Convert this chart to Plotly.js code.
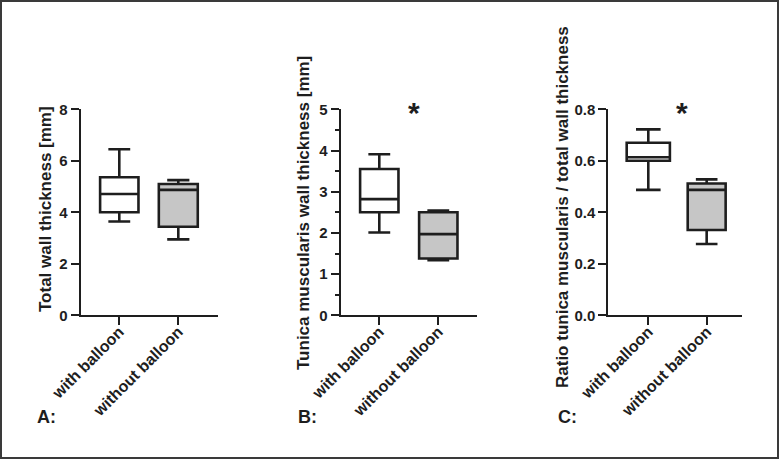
<!DOCTYPE html>
<html>
<head>
<meta charset="utf-8">
<script src="https://cdn.plot.ly/plotly-3.0.1.min.js"></script>
<style>
  html, body { margin: 0; padding: 0; background: #fff; }
  #wrap { position: relative; width: 779px; height: 459px; }
  #chart { position: absolute; left: 0; top: 0; width: 779px; height: 459px; }
  #frame { position: absolute; left: 0; top: 0; width: 779px; height: 459px; box-sizing: border-box; border: 2px solid #3a3a3a; pointer-events: none; }
</style>
</head>
<body>
<div id="wrap"><div id="chart"></div><div id="frame"></div></div>
<script>
// ---- data ----
const categories = ['with balloon', 'without balloon'];

// Panel A: total wall thickness [mm]
const totalLower  = [3.64, 2.95];
const totalQ1     = [4.00, 3.44];
const totalMedian = [4.71, 4.87];
const totalQ3     = [5.36, 5.10];
const totalUpper  = [6.45, 5.25];

// Panel B: tunica muscularis wall thickness [mm]
const tunicaLower  = [2.01, 1.34];
const tunicaQ1     = [2.50, 1.38];
const tunicaMedian = [2.82, 1.97];
const tunicaQ3     = [3.55, 2.50];
const tunicaUpper  = [3.91, 2.54];

// Panel C: ratio tunica muscularis / total wall thickness
const ratioLower  = [0.487, 0.277];
const ratioQ1     = [0.600, 0.331];
const ratioMedian = [0.614, 0.487];
const ratioQ3     = [0.670, 0.512];
const ratioUpper  = [0.722, 0.528];

const yTitles = ['Total wall thickness [mm]', 'Tunica muscularis wall thickness [mm]', 'Ratio tunica muscularis / total wall thickness'];
const panelLabels = ['A:', 'B:', 'C:'];

// ---- styling ----
const W = 779, H = 459;
const FONT = 'Liberation Sans, Arial, Helvetica, sans-serif';
const INK = '#1e1e1e';
const fills = ['#ffffff', '#c6c6c6'];
const px = v => v / W;
const py = v => (H - v) / H;

const yDomain = [py(315.3), py(109.3)];

function boxes(lower, q1, med, q3, upper, xa, ya, widths) {
  return categories.map((c, i) => ({
    type: 'box',
    x: [c],
    lowerfence: [lower[i]], q1: [q1[i]], median: [med[i]], q3: [q3[i]], upperfence: [upper[i]],
    xaxis: xa, yaxis: ya,
    fillcolor: fills[i],
    line: { color: INK, width: 2.6 },
    width: widths[i],
    whiskerwidth: 0.57,
    boxpoints: false,
    hoverinfo: 'skip',
    showlegend: false
  }));
}

const data = [
  ...boxes(totalLower, totalQ1, totalMedian, totalQ3, totalUpper, 'x', 'y', [0.65, 0.66]),
  ...boxes(tunicaLower, tunicaQ1, tunicaMedian, tunicaQ3, tunicaUpper, 'x2', 'y2', [0.65, 0.65]),
  ...boxes(ratioLower, ratioQ1, ratioMedian, ratioQ3, ratioUpper, 'x3', 'y3', [0.74, 0.65])
];

function xaxis(l, r, range, anchor) {
  return {
    domain: [px(l), px(r)], anchor: anchor, type: 'category',
    categoryorder: 'array', categoryarray: categories,
    range: range, showline: true, linewidth: 2, linecolor: INK,
    ticks: 'outside', ticklen: 8, tickwidth: 2, tickcolor: INK,
    ticklabelstandoff: -9,
    tickangle: -45, tickfont: { family: FONT, size: 16, color: INK, weight: 'bold' },
    showgrid: false, zeroline: false, fixedrange: true
  };
}
function yaxis(range, dtick, anchor, minor, fmt) {
  const a = {
    domain: yDomain, anchor: anchor, range: range,
    tickmode: 'linear', tick0: 0, dtick: dtick,
    showline: true, linewidth: 2, linecolor: INK,
    ticks: 'outside', ticklen: 8, tickwidth: 2, tickcolor: INK,
    tickfont: { family: FONT, size: 15, color: INK, weight: 'bold' },
    showgrid: false, zeroline: false, fixedrange: true
  };
  if (fmt) a.tickformat = fmt;
  if (minor) a.minor = { dtick: minor, ticks: 'outside', ticklen: 4, tickwidth: 2, tickcolor: INK, showgrid: false };
  return a;
}

const titleX = [45, 303, 563];
const titleY = [209, 213, 207];
const labelX = [46, 307, 567];
const starX = [414, 682];
const annotations = [];
yTitles.forEach((t, i) => annotations.push({
  text: t, xref: 'paper', yref: 'paper', x: px(titleX[i]), y: py(titleY[i]),
  xanchor: 'center', yanchor: 'middle', textangle: -90, showarrow: false,
  font: { family: FONT, size: 17, color: INK, weight: 'bold' }
}));
panelLabels.forEach((t, i) => annotations.push({
  text: t, xref: 'paper', yref: 'paper', x: px(labelX[i]), y: py(417),
  xanchor: 'center', yanchor: 'middle', showarrow: false,
  font: { family: FONT, size: 18, color: INK, weight: 'bold' }
}));
starX.forEach(x => annotations.push({
  text: '*', xref: 'paper', yref: 'paper', x: px(x), y: py(113),
  xanchor: 'center', yanchor: 'middle', showarrow: false,
  font: { family: FONT, size: 30, color: INK, weight: 'bold' }
}));

const layout = {
  width: W, height: H,
  margin: { l: 0, r: 0, t: 0, b: 0 },
  paper_bgcolor: '#ffffff', plot_bgcolor: '#ffffff',
  showlegend: false, boxmode: 'overlay',
  xaxis:  xaxis(80.7, 218.3, [-0.654, 1.678], 'y'),
  xaxis2: xaxis(340.7, 476.7, [-0.654, 1.651], 'y2'),
  xaxis3: xaxis(608.3, 741.7, [-0.685, 1.60], 'y3'),
  yaxis:  yaxis([0, 8], 2, 'x', null, null),
  yaxis2: yaxis([0, 5], 1, 'x2', 0.5, null),
  yaxis3: yaxis([0, 0.8], 0.2, 'x3', null, '.1f'),
  annotations: annotations
};

Plotly.newPlot('chart', data, layout, { staticPlot: true, displayModeBar: false });
</script>
</body>
</html>
